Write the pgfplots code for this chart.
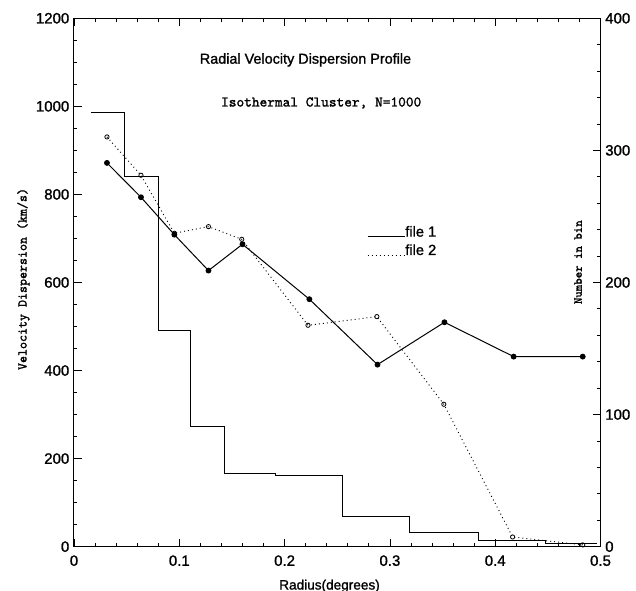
\documentclass[border=0pt]{standalone}
\usepackage{fontspec}
\setmainfont{Liberation Sans}
\newfontfamily\semib{Liberation Sans}[FakeBold=1.2]
\newfontfamily\ttb{Latin Modern Mono}[FakeBold=1.5]
\usepackage{pgfplots}
\pgfplotsset{compat=1.18}
\usetikzlibrary{calc}
\pgfplotstableread{
x v
0.0313 871.5
0.0636 793.5
0.0953 708.6
0.1277 627
0.1600 686.8
0.2235 562
0.2882 413.4
0.3518 509.6
0.4175 431.6
0.4831 431.6
}\fileone
\pgfplotstableread{
x v
0.0313 930.5
0.0636 843.5
0.0953 711.8
0.1277 726.8
0.1593 698
0.2222 502.8
0.2876 522.4
0.3512 323.4
0.4165 22
0.4831 4
}\filetwo
\pgfplotstableread{
x n
0.016 328.6
0.048 279.9
0.080 163.3
0.111 90.8
0.143 55.3
0.191 53.5
0.255 22.5
0.319 10.9
0.384 5.0
0.448 2.7
0.497 2.7
}\hist
\begin{document}
\begin{tikzpicture}
\pgfplotsset{
  base/.style={scale only axis, width=394.9pt, height=396.3pt,
    xmin=0, xmax=0.5,
    tick align=inside, major tick length=6pt, minor tick length=2.6pt,
    every tick/.style={black, line width=0.6pt},
    axis line style={line width=0.75pt},
    /pgf/number format/assume math mode=true,
    /pgf/number format/1000 sep={},
    tick label style={font=\semib\fontsize{11.25}{13}\selectfont},
  }
}
\begin{axis}[base, ymin=0, ymax=1200,
  xtick={0,0.1,0.2,0.3,0.4,0.5}, minor x tick num=4,
  xticklabel style={/pgf/number format/fixed, /pgf/number format/precision=1, yshift=-3pt},
  ytick={0,200,400,600,800,1000,1200}, minor y tick num=3,
  xtick pos=both, xticklabel pos=lower, ytick pos=left,
  xlabel={Radius(degrees)},
  xlabel style={at={(rel axis cs:0.4853,-0.0745)}, anchor=center, font=\semib\fontsize{10.2}{12}\selectfont},
  ylabel={Velocity Dispersion (km/s)},
  ylabel style={at={(rel axis cs:-0.0960,0.5066)}, anchor=center, rotate=0, font=\ttb\fontsize{10}{12}\selectfont},
]
\addplot[black, line width=0.75pt, mark=*, mark size=1.8pt] table[x=x, y=v] {\fileone};
\addplot[black, line width=0.7pt, dash pattern=on 0.7pt off 2.3pt, mark=o, mark size=1.6pt, mark options={solid, line width=0.6pt}] table[x=x, y=v] {\filetwo};
\node[font=\semib\fontsize{10.8}{13}\selectfont] at (rel axis cs:0.4397,0.9211) {Radial Velocity Dispersion Profile};
\node[font=\ttb\fontsize{11}{13}\selectfont] at (rel axis cs:0.4695,0.8397) {Isothermal Cluster, N=1000};
\draw[black, line width=0.75pt] (rel axis cs:0.5578,0.5867) -- (rel axis cs:0.6287,0.5867);
\node[anchor=base west, inner sep=0pt, font=\semib\fontsize{11}{13}\selectfont] at (rel axis cs:0.6287,0.5867) {file 1};
\draw[black, line width=0.7pt, dash pattern=on 0.7pt off 2.3pt] (rel axis cs:0.5578,0.5520) -- (rel axis cs:0.6287,0.5520);
\node[anchor=base west, inner sep=0pt, font=\semib\fontsize{11}{13}\selectfont] at (rel axis cs:0.6287,0.5520) {file 2};
\coordinate (SW) at (rel axis cs:0,0);
\coordinate (NE) at (rel axis cs:1,1);
\end{axis}
\begin{axis}[base, ymin=0, ymax=400,
  axis y line*=right, hide x axis,
  ytick={0,100,200,300,400}, minor y tick num=4,
]
\addplot[black, line width=0.75pt, const plot] table[x=x, y=n] {\hist};
\node[rotate=90, font=\ttb\fontsize{9.2}{11}\selectfont] at (rel axis cs:0.9573,0.5384) {Number in bin};
\end{axis}
\pgfresetboundingbox
\path[use as bounding box] ($(SW)+(-55.5pt,-33.2pt)$) rectangle ($(NE)+(26.6pt,13.7pt)$);
\end{tikzpicture}
\end{document}
